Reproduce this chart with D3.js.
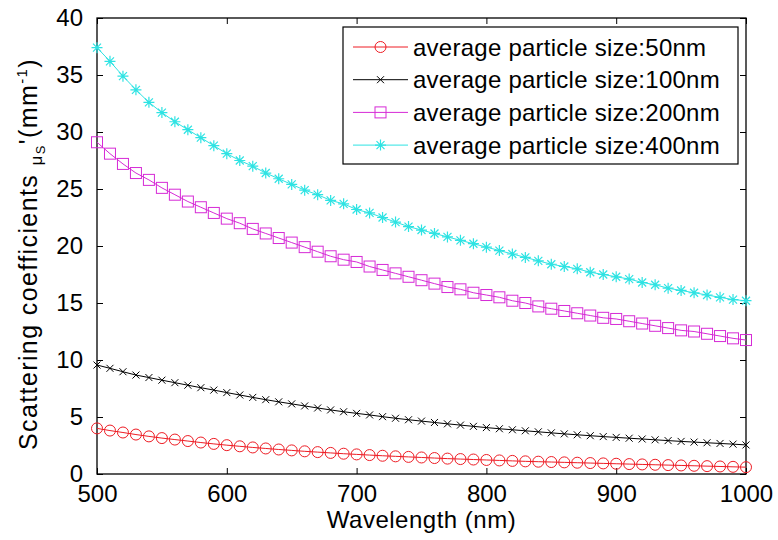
<!DOCTYPE html>
<html>
<head>
<meta charset="utf-8">
<script src="https://cdn.jsdelivr.net/npm/d3@7"></script>
<style>
body { margin: 0; background: #fff; }
text { font-family: "Liberation Sans", Arial, sans-serif; fill: #000; }
</style>
</head>
<body>
<div id="vis"></div>
<script>
// wavelength (nm), one sample every 10 nm
var wavelengths = d3.range(500, 1001, 10);

// values
var size50 = [4.00,3.81,3.64,3.46,3.30,3.15,3.02,2.89,2.76,2.64,
	2.53,2.43,2.33,2.24,2.15,2.07,1.99,1.92,1.85,1.78,
	1.72,1.66,1.60,1.55,1.50,1.45,1.40,1.35,1.31,1.27,
	1.23,1.19,1.15,1.11,1.08,1.05,1.02,0.99,0.96,0.93,
	0.90,0.87,0.84,0.81,0.78,0.75,0.72,0.69,0.66,0.63,0.60];
var size100 = [9.56,9.27,8.97,8.68,8.46,8.23,8.01,7.79,7.57,7.36,
	7.14,6.93,6.72,6.52,6.33,6.15,5.97,5.79,5.62,5.46,
	5.32,5.18,5.03,4.89,4.76,4.64,4.52,4.40,4.29,4.18,
	4.07,3.97,3.88,3.79,3.70,3.61,3.52,3.44,3.36,3.28,
	3.21,3.14,3.07,3.00,2.93,2.86,2.80,2.74,2.68,2.62,2.55];
var size200 = [29.1,28.1,27.2,26.4,25.8,25.1,24.5,23.9,23.4,22.9,
	22.4,22.0,21.5,21.1,20.7,20.3,19.9,19.5,19.1,18.8,
	18.6,18.2,17.9,17.6,17.3,17.0,16.7,16.4,16.2,15.9,
	15.7,15.5,15.2,15.0,14.7,14.5,14.3,14.1,13.9,13.7,
	13.6,13.4,13.2,13.0,12.8,12.6,12.5,12.3,12.1,11.9,11.75];
var size400 = [37.4,36.2,34.9,33.7,32.6,31.7,30.9,30.2,29.5,28.8,
	28.1,27.5,27.0,26.4,25.9,25.4,24.9,24.5,24.0,23.7,
	23.2,22.9,22.5,22.1,21.7,21.4,21.1,20.8,20.5,20.2,
	19.9,19.6,19.3,19.0,18.7,18.4,18.2,18.0,17.7,17.5,
	17.3,17.1,16.8,16.6,16.3,16.1,15.9,15.7,15.5,15.3,15.2];

var xTicks = [500, 600, 700, 800, 900, 1000];
var yTicks = [0, 5, 10, 15, 20, 25, 30, 35, 40];

var seriesNames = ["average particle size:50nm", "average particle size:100nm",
	"average particle size:200nm", "average particle size:400nm"];
var seriesValues = [size50, size100, size200, size400];
var seriesColors = ["#ee1c24", "#000000", "#d62ad6", "#2ee3e3"];
var seriesMarkers = ["circle", "x", "square", "star"];

// Layout Settings
var W = 778, H = 540;
var pLeft = 97, pRight = 746, pTop = 18, pBottom = 474;

var svg = d3.select("#vis")
	.append("svg")
	.attr("width", W)
	.attr("height", H);

var x = d3.scaleLinear().domain([500, 1000]).range([pLeft, pRight]);
var y = d3.scaleLinear().domain([0, 40]).range([pBottom, pTop]);

// axes, ticks pointing inward (matlab style)
var tk = 6;
var fs = 24;
function noDomain(g) { g.select(".domain").remove(); }

svg.append("g")
	.attr("transform", "translate(0," + pBottom + ")")
	.call(d3.axisBottom(x).tickValues(xTicks).tickSizeInner(-tk).tickSizeOuter(0).tickPadding(11).tickFormat(d3.format("d")))
	.call(noDomain);
svg.append("g")
	.attr("transform", "translate(0," + pTop + ")")
	.call(d3.axisTop(x).tickValues(xTicks).tickSizeInner(-tk).tickSizeOuter(0).tickFormat(""))
	.call(noDomain);
svg.append("g")
	.attr("transform", "translate(" + pLeft + ",0)")
	.call(d3.axisLeft(y).tickValues(yTicks).tickSizeInner(-tk).tickSizeOuter(0).tickPadding(14))
	.call(noDomain);
svg.append("g")
	.attr("transform", "translate(" + pRight + ",0)")
	.call(d3.axisRight(y).tickValues(yTicks).tickSizeInner(-tk).tickSizeOuter(0).tickFormat(""))
	.call(noDomain);

svg.selectAll(".tick text")
	.style("font-family", "'Liberation Sans', Arial, sans-serif")
	.style("font-size", fs + "px")
	.attr("fill", "#000");
svg.selectAll(".tick line").attr("stroke", "#000");

// frame
svg.append("rect")
	.attr("x", pLeft).attr("y", pTop)
	.attr("width", pRight - pLeft).attr("height", pBottom - pTop)
	.attr("fill", "none").attr("stroke", "#000").attr("stroke-width", 1.3);

// marker drawing
function drawMarker(g, type, color) {
	if (type == "circle") {
		g.append("circle").attr("r", 5.5)
			.attr("fill", "none").attr("stroke", color).attr("stroke-width", 1);
	} else if (type == "square") {
		g.append("rect").attr("x", -5.5).attr("y", -5.5).attr("width", 11).attr("height", 11)
			.attr("fill", "none").attr("stroke", color).attr("stroke-width", 1);
	} else if (type == "x") {
		g.append("path").attr("d", "M-3.5,-3.5L3.5,3.5M-3.5,3.5L3.5,-3.5")
			.attr("stroke", color).attr("stroke-width", 1);
	} else {
		g.append("path").attr("d", "M0,-5.5V5.5M-5.5,0H5.5M-4,-4L4,4M-4,4L4,-4")
			.attr("stroke", color).attr("stroke-width", 1.2);
	}
}

var line = d3.line()
	.x(function(d) { return x(d.w); })
	.y(function(d) { return y(d.v); });

seriesValues.forEach(function(vals, s) {
	var pts = wavelengths.map(function(w, i) { return {w: w, v: vals[i]}; });
	svg.append("path")
		.datum(pts)
		.attr("d", line)
		.attr("fill", "none")
		.attr("stroke", seriesColors[s])
		.attr("stroke-width", 1);
	svg.append("g").selectAll("g")
		.data(pts)
		.enter()
		.append("g")
		.attr("transform", function(d) { return "translate(" + x(d.w) + "," + y(d.v) + ")"; })
		.each(function() { drawMarker(d3.select(this), seriesMarkers[s], seriesColors[s]); });
});

// legend
var lg = svg.append("g").attr("class", "legend");
lg.append("rect")
	.attr("x", 343).attr("y", 27).attr("width", 395).attr("height", 137)
	.attr("fill", "#fff").attr("stroke", "#000").attr("stroke-width", 1.2);
seriesNames.forEach(function(name, s) {
	var cy = 47 + s * 32.7;
	lg.append("line")
		.attr("x1", 353).attr("x2", 408).attr("y1", cy).attr("y2", cy)
		.attr("stroke", seriesColors[s]).attr("stroke-width", 1);
	var m = lg.append("g").attr("transform", "translate(380.5," + cy + ")");
	drawMarker(m, seriesMarkers[s], seriesColors[s]);
	lg.append("text")
		.attr("x", 413).attr("y", cy + 8.5)
		.style("font-size", fs + "px")
		.style("letter-spacing", "0.25px")
		.text(name);
});

// axis titles
svg.append("text")
	.attr("x", (pLeft + pRight) / 2).attr("y", 528)
	.attr("text-anchor", "middle")
	.style("font-size", fs + "px")
	.style("letter-spacing", "0.5px")
	.text("Wavelength (nm)");

var yl = svg.append("text")
	.attr("transform", "translate(37,254) rotate(-90)")
	.attr("text-anchor", "middle")
	.style("font-size", "25px")
	.style("letter-spacing", "1.4px");
yl.append("tspan").text("Scattering coefficients ");
yl.append("tspan").attr("dy", 5).style("font-size", "17px").text("\u03bc");
yl.append("tspan").attr("dy", 3).style("font-size", "13px").text("S");
yl.append("tspan").attr("dy", -8).text("'(mm");
yl.append("tspan").attr("dy", -10).style("font-size", "15px").text("-1");
yl.append("tspan").attr("dy", 10).text(")");
</script>
</body>
</html>
